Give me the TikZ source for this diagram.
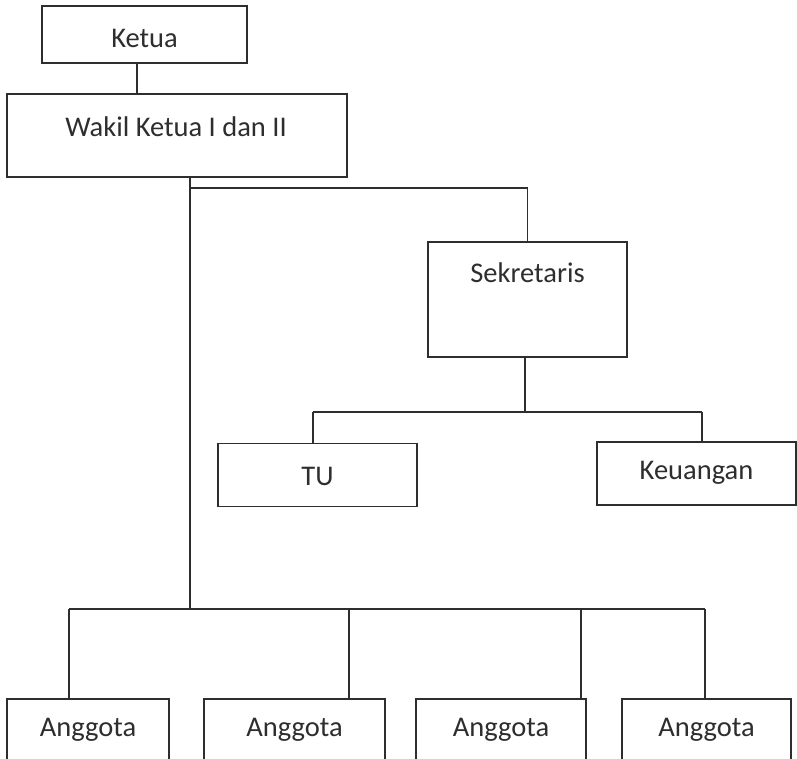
\documentclass[tikz,border=0pt]{standalone}
\usepackage{fontspec}
\setmainfont{Carlito}
\definecolor{ink}{HTML}{2E2E2E}
\begin{document}
\begin{tikzpicture}[x=1pt,y=-1pt,
  box/.style={draw=ink, line width=1.8pt, rectangle, inner sep=0pt},
  lbl/.style={text=ink, font=\fontsize{28.5}{31}\selectfont, inner sep=0pt},
  conn/.style={draw=ink, line width=1.7pt}]
\clip (0,0) rectangle (797,759);
\fill[white] (0,0) rectangle (797,759);
% boxes
\node[box, minimum width=205, minimum height=57] (ketua) at (144.5,34.5) {};
\node[lbl] (tketua) at (144.5,38) {Ketua};
\node[box, minimum width=340, minimum height=83] (wakil) at (177,135.5) {};
\node[lbl] (twakil) at (176,127) {Wakil Ketua I dan II};
\node[box, minimum width=199, minimum height=115] (sek) at (527.5,299.5) {};
\node[lbl] (tsek) at (527.5,273) {Sekretaris};
\node[box, minimum width=199, minimum height=63] (tu) at (317.5,475) {};
\node[lbl] (ttu) at (317.5,476) {TU};
\node[box, minimum width=199, minimum height=63] (keu) at (696.5,473.5) {};
\node[lbl] (tkeu) at (696.5,473) {Keuangan};
\node[box, minimum width=162, minimum height=70, anchor=north] (a1) at (88,698) {};
\node[lbl] (ta1) at (88,730) {Anggota};
\node[box, minimum width=181, minimum height=70, anchor=north] (a2) at (294.5,698) {};
\node[lbl] (ta2) at (294.5,730) {Anggota};
\node[box, minimum width=170, minimum height=70, anchor=north] (a3) at (501,698) {};
\node[lbl] (ta3) at (501,730) {Anggota};
\node[box, minimum width=169, minimum height=70, anchor=north] (a4) at (706.5,698) {};
\node[lbl] (ta4) at (706.5,730) {Anggota};
% junctions
\coordinate (wk) at (190,177);
\coordinate (j1) at (190,188);
\coordinate (jbus) at (190,609);
\coordinate (sb) at (525,357);
\coordinate (sj) at (525,412);
\coordinate (sl) at (313,412);
\coordinate (sr) at (702,412);
\coordinate (b1) at (69,609);
\coordinate (b2) at (349,609);
\coordinate (b3) at (581,609);
\coordinate (b4) at (705,609);
\coordinate (tuin) at (313,443);
\coordinate (keuin) at (702,442);
\coordinate (a1in) at (69,698);
\coordinate (a2in) at (349,698);
\coordinate (a3in) at (581,698);
\coordinate (a4in) at (705,698);
% connectors
\draw[conn] ([xshift=-7.5pt]ketua.south) -- ([xshift=-7.5pt]ketua.south |- wakil.north);
\draw[conn] (wk) -- (jbus);
\draw[conn] (j1) -| (sek.north);
\draw[conn] (sb) -- (sj);
\draw[conn] (sl) -- (sr);
\draw[conn] (sl) -- (tuin);
\draw[conn] (sr) -- (keuin);
\draw[conn] (b1) -- (b4);
\draw[conn] (b1) -- (a1in);
\draw[conn] (b2) -- (a2in);
\draw[conn] (b3) -- (a3in);
\draw[conn] (b4) -- (a4in);
\end{tikzpicture}
\end{document}
